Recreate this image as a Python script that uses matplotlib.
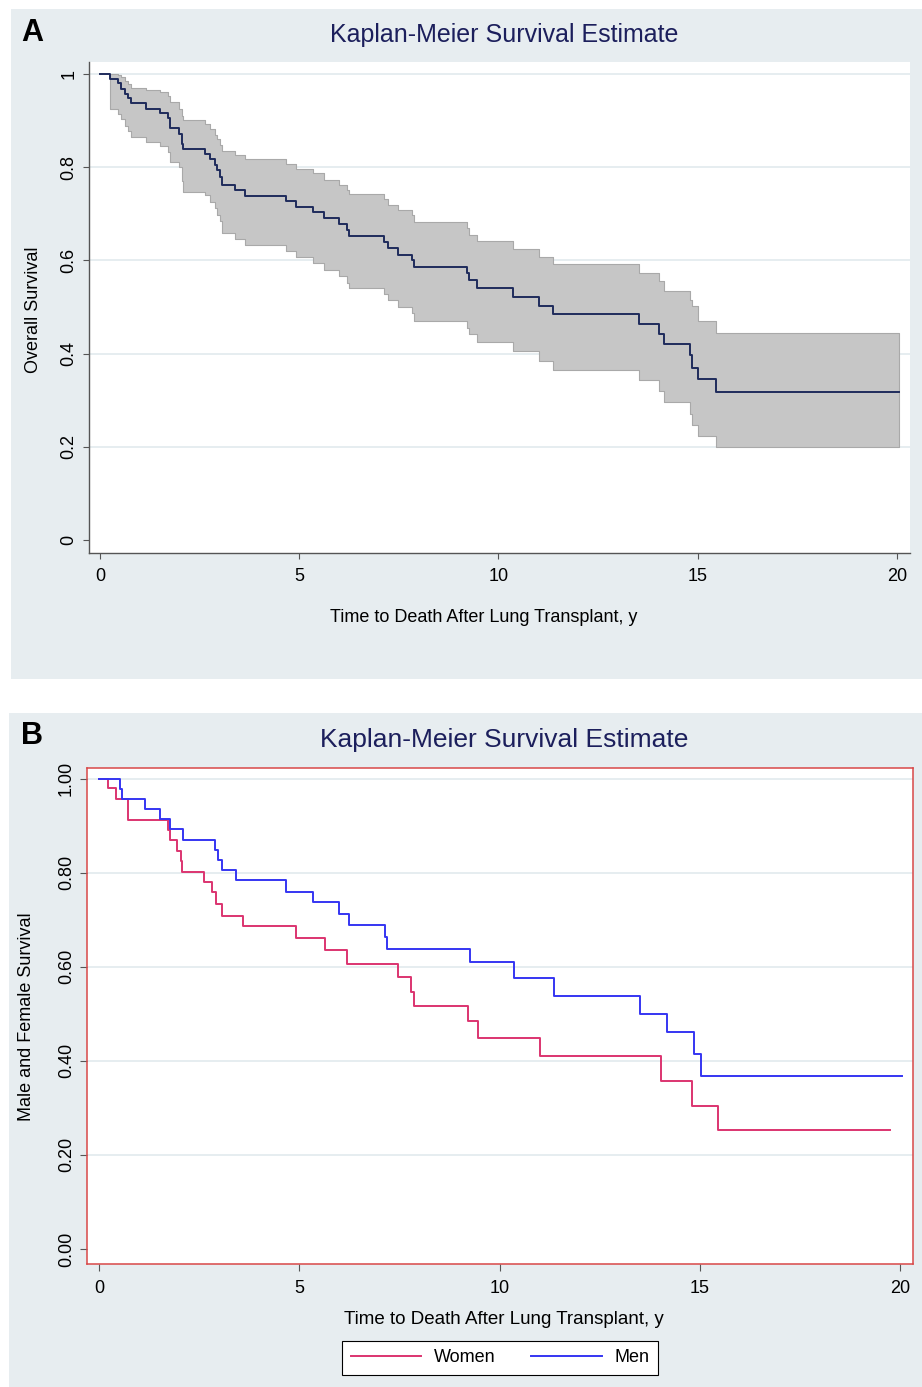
import numpy as np
import matplotlib
matplotlib.use("Agg")
import matplotlib.pyplot as plt
from matplotlib.patches import Rectangle
from matplotlib.lines import Line2D

plt.rcParams['font.family'] = ['Liberation Sans', 'DejaVu Sans']

# ---- panel A: overall Kaplan-Meier estimate with 95% CI ----
a_time = [0.24, 0.44, 0.53, 0.63, 0.71, 0.77, 1.16, 1.51, 1.70, 1.76, 1.98, 2.06,
          2.09, 2.64, 2.77, 2.88, 2.94, 3.00, 3.05, 3.40, 3.64, 4.68, 4.92, 5.35,
          5.62, 6.00, 6.21, 6.26, 7.14, 7.22, 7.47, 7.82, 7.88, 9.20, 9.27, 9.45,
          10.37, 11.02, 11.36, 13.52, 14.03, 14.15, 14.80, 14.86, 15.00, 15.47]
a_surv = [0.990, 0.980, 0.969, 0.958, 0.948, 0.937, 0.926, 0.916, 0.905, 0.884, 0.872, 0.851,
          0.839, 0.828, 0.817, 0.805, 0.794, 0.780, 0.762, 0.751, 0.739, 0.727, 0.715, 0.704,
          0.691, 0.679, 0.665, 0.652, 0.640, 0.626, 0.612, 0.601, 0.587, 0.573, 0.557, 0.540,
          0.521, 0.502, 0.484, 0.463, 0.443, 0.420, 0.396, 0.370, 0.346, 0.318]
a_lo = [0.926, 0.915, 0.903, 0.888, 0.878, 0.866, 0.855, 0.846, 0.833, 0.812, 0.800, 0.770,
        0.747, 0.740, 0.725, 0.712, 0.698, 0.684, 0.658, 0.646, 0.633, 0.621, 0.608, 0.594,
        0.579, 0.567, 0.552, 0.540, 0.528, 0.515, 0.501, 0.488, 0.471, 0.455, 0.442, 0.426,
        0.406, 0.384, 0.365, 0.343, 0.320, 0.297, 0.270, 0.247, 0.223, 0.199]
a_hi = [1.000, 0.998, 0.993, 0.985, 0.978, 0.971, 0.966, 0.961, 0.953, 0.940, 0.925, 0.910,
        0.901, 0.892, 0.882, 0.870, 0.860, 0.848, 0.836, 0.826, 0.817, 0.807, 0.797, 0.787,
        0.773, 0.763, 0.752, 0.742, 0.731, 0.720, 0.708, 0.697, 0.683, 0.669, 0.655, 0.641,
        0.625, 0.608, 0.592, 0.574, 0.556, 0.535, 0.515, 0.503, 0.469, 0.444]
a_end = 20.05

# ---- panel B: women vs men ----
w_time = [0.23, 0.42, 0.72, 0.73, 1.72, 1.76, 1.94, 2.04, 2.08, 2.63, 2.81, 2.92,
          3.06, 3.60, 4.91, 5.63, 6.18, 7.47, 7.79, 7.87, 9.21, 9.46, 11.01, 14.03,
          14.81, 15.46]
w_surv = [0.980, 0.956, 0.935, 0.913, 0.891, 0.870, 0.847, 0.826, 0.802, 0.781, 0.760, 0.733,
          0.709, 0.687, 0.661, 0.636, 0.606, 0.579, 0.547, 0.517, 0.485, 0.449, 0.411, 0.357,
          0.305, 0.254]
w_end = 19.75

m_time = [0.52, 0.57, 1.15, 1.51, 1.77, 2.10, 2.90, 2.98, 3.06, 3.41, 4.67, 5.33,
          5.98, 6.25, 7.13, 7.19, 9.26, 10.36, 11.36, 13.51, 14.17, 14.86, 15.02]
m_surv = [0.978, 0.957, 0.936, 0.914, 0.893, 0.870, 0.849, 0.828, 0.805, 0.784, 0.760, 0.737,
          0.712, 0.688, 0.663, 0.639, 0.611, 0.577, 0.539, 0.500, 0.461, 0.415, 0.368]
m_end = 20.04

x_ticks = [0, 5, 10, 15, 20]
a_yticks = [0, 0.2, 0.4, 0.6, 0.8, 1]
a_ylabels = ['0', '0.2', '0.4', '0.6', '0.8', '1']
b_yticks = [0, 0.2, 0.4, 0.6, 0.8, 1.0]
b_ylabels = ['0.00', '0.20', '0.40', '0.60', '0.80', '1.00']

title = 'Kaplan-Meier Survival Estimate'
xlab = 'Time to Death After Lung Transplant, y'

W, H = 922, 1387
bg = '#e7edf0'
grid_c = '#e2eaee'
navy = '#1c1f5c'


def fx(px):
    return px / W


def fy(py):
    return 1 - py / H


fig = plt.figure(figsize=(W / 100, H / 100), dpi=100)
fig.patch.set_facecolor('white')
fig.patches.append(Rectangle((fx(11), fy(679)), fx(911), 670 / H, transform=fig.transFigure,
                             facecolor=bg, edgecolor='none', zorder=-10))
fig.patches.append(Rectangle((fx(9), 0), fx(913), 674 / H, transform=fig.transFigure,
                             facecolor=bg, edgecolor='none', zorder=-10))

# ------------- panel A -------------
axA = fig.add_axes([fx(89), fy(553), fx(821), 491 / H])
axA.set_facecolor('white')
axA.set_xlim(-0.276, 20.33)
axA.set_ylim(-0.028, 1.026)
for y in a_yticks[1:]:
    axA.axhline(y, color=grid_c, lw=1.2, zorder=1)

band_t = np.r_[a_time, a_end]
axA.fill_between(band_t, np.r_[a_lo, a_lo[-1]], np.r_[a_hi, a_hi[-1]], step='post',
                 facecolor='#c6c6c6', edgecolor='#a9a9a9', lw=0.8, zorder=2)
axA.step(np.r_[0, a_time, a_end], np.r_[1, a_surv, a_surv[-1]], where='post',
         color='#1f2b5c', lw=1.4, zorder=3)

for side in ['top', 'right']:
    axA.spines[side].set_visible(False)
for side in ['left', 'bottom']:
    axA.spines[side].set_color('#555555')
    axA.spines[side].set_linewidth(1.0)
axA.set_xticks(x_ticks)
axA.set_yticks(a_yticks)
axA.set_yticklabels(a_ylabels, rotation=90, va='center')
axA.tick_params(axis='both', length=4.3, width=0.8, color='#555555', labelsize=13)
axA.tick_params(axis='x', pad=6.5)
axA.tick_params(axis='y', pad=4.0)

fig.text(fx(32), fy(33), 'A', fontsize=22, fontweight='bold', ha='center', va='center')
fig.text(fx(504), fy(35), title, fontsize=18, color=navy, ha='center', va='center')
fig.text(fx(484), fy(618), xlab, fontsize=13, ha='center', va='center')
fig.text(fx(34), fy(310), 'Overall Survival', fontsize=13, rotation=90, ha='center', va='center')

# ------------- panel B -------------
axB = fig.add_axes([fx(87), fy(1264), fx(826), 496 / H])
axB.set_facecolor('white')
axB.set_xlim(-0.30, 20.32)
axB.set_ylim(-0.032, 1.023)
for y in b_yticks[1:]:
    axB.axhline(y, color=grid_c, lw=1.2, zorder=1)

pink = '#dc3470'
blue = '#3535f2'
axB.step(np.r_[0, w_time, w_end], np.r_[1, w_surv, w_surv[-1]], where='post',
         color=pink, lw=1.4, zorder=3)
axB.step(np.r_[0, m_time, m_end], np.r_[1, m_surv, m_surv[-1]], where='post',
         color=blue, lw=1.4, zorder=3)

for side in axB.spines:
    axB.spines[side].set_color('#d84848')
    axB.spines[side].set_linewidth(1.1)
axB.set_xticks(x_ticks)
axB.set_yticks(b_yticks)
axB.set_yticklabels(b_ylabels, rotation=90, va='center')
axB.tick_params(axis='both', length=4.7, width=0.8, color='#555555', labelsize=13)
axB.tick_params(axis='x', pad=6.5)
axB.tick_params(axis='y', pad=4.0)

fig.text(fx(32), fy(736), 'B', fontsize=22, fontweight='bold', ha='center', va='center')
fig.text(fx(504), fy(740), title, fontsize=19, color=navy, ha='center', va='center')
fig.text(fx(504), fy(1320), xlab, fontsize=13.5, ha='center', va='center')
fig.text(fx(27), fy(1017), 'Male and Female Survival', fontsize=13, rotation=90,
         ha='center', va='center')

handles = [Line2D([], [], color=pink, lw=1.4), Line2D([], [], color=blue, lw=1.4)]
leg = fig.legend(handles, ['Women', 'Men'], loc='center', bbox_to_anchor=(fx(500), fy(1358)),
                 ncol=2, fontsize=13, frameon=True, fancybox=False, framealpha=1,
                 handlelength=3.9, handletextpad=0.7, columnspacing=2.0, borderpad=0.45)
leg.get_frame().set_edgecolor('black')
leg.get_frame().set_linewidth(0.8)
leg.get_frame().set_facecolor('white')

fig.savefig('out.png', dpi=100, facecolor='white')
